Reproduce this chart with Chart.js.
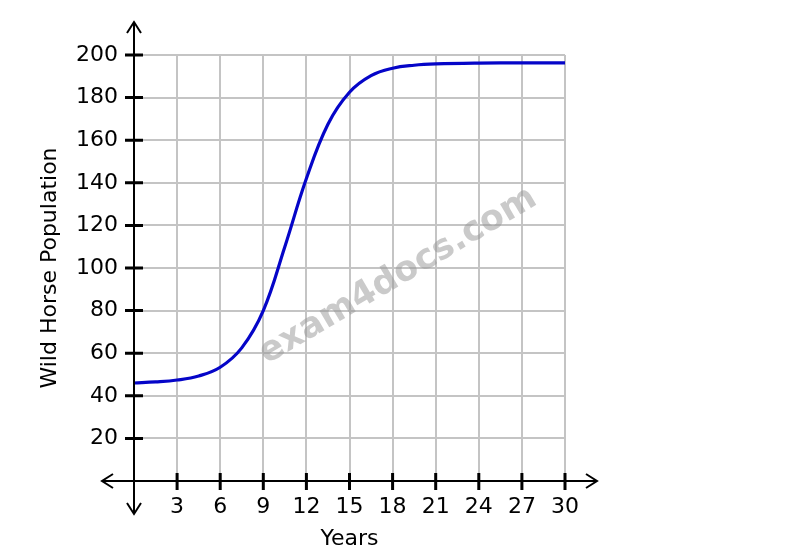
<!DOCTYPE html>
<html lang="en">
<head>
  <meta charset="UTF-8">
  <title>Wild Horse Population</title>
  <script src="https://cdn.jsdelivr.net/npm/chart.js@4.4.0/dist/chart.umd.min.js"></script>
  <style>
    html, body { margin: 0; padding: 0; background: #fff; }
    #wrap { width: 795px; height: 552px; }
  </style>
</head>
<body>
  <div id="wrap"><canvas id="horseChart"></canvas></div>

  <script>
    // values
    const years      = [0, 1.5, 3, 4.5, 6, 7.5, 9, 10.5, 12, 13.5, 15, 16.5, 18, 19.5, 21, 24, 27, 30];
    const population = [46, 46.5, 47.4, 49.3, 53.4, 62.5, 80, 110, 142, 167.5, 182.5, 190.3, 193.8, 195.2, 195.8, 196.2, 196.3, 196.3];
    const xTicks = [3, 6, 9, 12, 15, 18, 21, 24, 27, 30];
    const yTicks = [20, 40, 60, 80, 100, 120, 140, 160, 180, 200];

    const FONT = 'DejaVu Sans';

    // black axes with arrows, tick marks, and the watermark
    const axesPlugin = {
      id: 'axes',
      afterDatasetsDraw(chart) {
        const { ctx, scales: { x, y } } = chart;
        const x0 = x.getPixelForValue(0), y0 = y.getPixelForValue(0);
        ctx.save();
        ctx.strokeStyle = '#000';
        ctx.lineWidth = 2;
        ctx.beginPath();
        ctx.moveTo(x0, 22); ctx.lineTo(x0, y0 + 33);
        ctx.moveTo(x0 - 32, y0); ctx.lineTo(x.getPixelForValue(30) + 32, y0);
        ctx.stroke();

        // arrow heads
        const a = 7, b = 11;
        ctx.beginPath();
        ctx.moveTo(x0 - a, 22 + b); ctx.lineTo(x0, 22); ctx.lineTo(x0 + a, 22 + b);
        ctx.moveTo(x0 - a, y0 + 33 - b); ctx.lineTo(x0, y0 + 33); ctx.lineTo(x0 + a, y0 + 33 - b);
        const xl = x0 - 32, xr = x.getPixelForValue(30) + 32;
        ctx.moveTo(xl + b, y0 - a); ctx.lineTo(xl, y0); ctx.lineTo(xl + b, y0 + a);
        ctx.moveTo(xr - b, y0 - a); ctx.lineTo(xr, y0); ctx.lineTo(xr - b, y0 + a);
        ctx.stroke();

        // tick marks
        ctx.lineWidth = 3;
        ctx.beginPath();
        xTicks.forEach(v => {
          const px = x.getPixelForValue(v);
          ctx.moveTo(px, y0 - 8); ctx.lineTo(px, y0 + 9);
        });
        yTicks.forEach(v => {
          const py = y.getPixelForValue(v);
          ctx.moveTo(x0 - 9, py); ctx.lineTo(x0 + 9, py);
        });
        ctx.stroke();

        // watermark
        ctx.translate(398, 276);
        ctx.rotate(-30.6 * Math.PI / 180);
        ctx.font = 'bold 35px "' + FONT + '"';
        ctx.fillStyle = 'rgba(150,150,150,0.5)';
        ctx.textAlign = 'center';
        ctx.textBaseline = 'middle';
        ctx.fillText('exam4docs.com', 0, 0);
        ctx.restore();
      }
    };

    new Chart(document.getElementById('horseChart'), {
      type: 'line',
      data: {
        datasets: [{
          data: years.map((yr, i) => ({ x: yr, y: population[i] })),
          borderColor: '#0505c8',
          borderWidth: 3.2,
          pointRadius: 0,
          fill: false,
          tension: 0.4
        }]
      },
      options: {
        responsive: true,
        maintainAspectRatio: false,
        animation: false,
        layout: { padding: { top: 55, right: 230, left: 0, bottom: 0 } },
        plugins: { legend: { display: false }, tooltip: { enabled: false } },
        scales: {
          x: {
            type: 'linear', min: 0, max: 30,
            border: { display: false },
            grid: { color: '#c4c4c4', lineWidth: 2, drawTicks: false },
            afterBuildTicks: s => { s.ticks = [0].concat(xTicks).map(v => ({ value: v })); },
            afterFit: s => { s.height = 71; },
            ticks: {
              padding: 13, color: '#000',
              font: { family: FONT, size: 22 },
              callback: v => v === 0 ? '' : v
            },
            title: {
              display: true, text: 'Years', color: '#000',
              font: { family: FONT, size: 22 },
              padding: { top: 0, bottom: 0 }
            }
          },
          y: {
            min: 0, max: 200,
            border: { display: false },
            grid: { color: '#c4c4c4', lineWidth: 2, drawTicks: false },
            afterBuildTicks: s => { s.ticks = [0].concat(yTicks).map(v => ({ value: v })); },
            afterFit: s => { s.width = 134; },
            ticks: {
              padding: 16, color: '#000',
              font: { family: FONT, size: 22 },
              callback: v => v === 0 ? '' : v
            },
            title: {
              display: true, text: 'Wild Horse Population', color: '#000',
              font: { family: FONT, size: 22 },
              padding: { top: 37, bottom: 0 }
            }
          }
        }
      },
      plugins: [axesPlugin]
    });
  </script>
</body>
</html>
